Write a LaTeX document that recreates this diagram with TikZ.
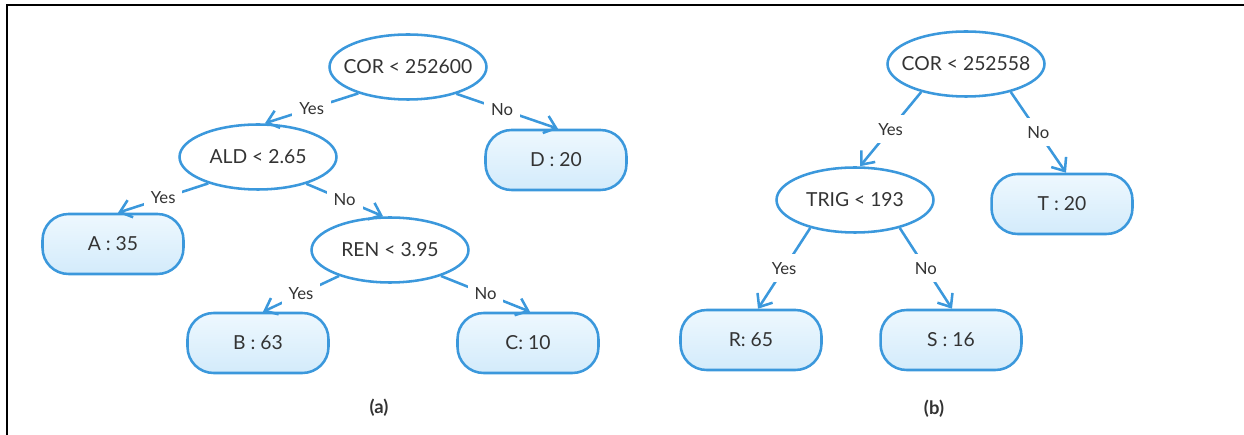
\documentclass[tikz,border=0pt]{standalone}
\usepackage{fontspec}
\setmainfont{Lato}
\usetikzlibrary{arrows.meta,shapes.geometric}
\definecolor{nodeblue}{HTML}{3B98DC}
\definecolor{inkgray}{HTML}{333333}
\definecolor{boxtop}{HTML}{EEF8FE}
\definecolor{boxbottom}{HTML}{D3EBFB}
% zero-width text so the ellipse size comes from its minimum size alone
\newcommand\tightlabel[1]{\makebox[0pt]{#1}}

\begin{document}
\begin{tikzpicture}[x=0.02cm,y=-0.02cm,
  test/.style={ellipse, draw=nodeblue, line width=1.45pt, fill=white,
    minimum width=3.14cm, minimum height=1.3cm, inner sep=0pt,
    text=inkgray, font=\fontsize{11}{13}\selectfont},
  leaf/.style={rectangle, rounded corners=0.52cm, draw=nodeblue, line width=1.45pt,
    top color=boxtop, bottom color=boxbottom,
    minimum width=2.82cm, minimum height=1.2cm, inner sep=0pt,
    text=inkgray, font=\fontsize{11}{13}\selectfont},
  branch/.style={draw=nodeblue, line width=1.45pt,
    -{Straight Barb[length=0.22cm,width=0.36cm]}},
  answer/.style={fill=white, text=inkgray, font=\fontsize{9.5}{11}\selectfont,
    inner xsep=0.14cm, inner ysep=0.16cm},
  caption/.style={text=inkgray, font=\bfseries\fontsize{10.5}{12}\selectfont}]

\useasboundingbox (0,0) rectangle (1244,435);

% frame on the top and left
\draw[line width=0.045cm] (7,435) -- (7,5) -- (1244,5);

% tree (a)
\node[test] (corA) at (408,67) {\tightlabel{COR < 252600}};
\node[test] (ald)  at (258,157) {\tightlabel{ALD < 2.65}};
\node[test] (ren)  at (390,250) {\tightlabel{REN < 3.95}};
\node[leaf] (dleaf) at (556,160) {D : 20};
\node[leaf] (aleaf) at (113,244) {A : 35};
\node[leaf] (bleaf) at (258,343) {B : 63};
\node[leaf] (cleaf) at (528,343) {C: 10};

\draw[branch] (corA.208) -- node[answer]{Yes} ([xshift=0.14cm]ald.north);
\draw[branch] (corA.331) -- node[answer,pos=0.45]{No} ([xshift=0.04cm]dleaf.north);
\draw[branch] (ald.208) -- node[answer]{Yes} ([xshift=0.1cm]aleaf.north);
\draw[branch] (ald.331) -- node[answer]{No} ([xshift=-0.14cm]ren.north);
\draw[branch] (ren.207) -- node[answer]{Yes} ([xshift=0.1cm]bleaf.north);
\draw[branch] (ren.333) -- node[answer]{No} ([xshift=0.04cm]cleaf.north);

\node[caption] (capA) at (379,408) {(a)};

% tree (b)
\node[test] (corB) at (966,64) {\tightlabel{COR < 252558}};
\node[test] (trig) at (855,200) {\tightlabel{TRIG < 193}};
\node[leaf] (tleaf) at (1062,204) {T : 20};
\node[leaf] (rleaf) at (751,340) {R: 65};
\node[leaf] (sleaf) at (951,340) {S : 16};

\draw[branch] (corB.212) -- node[answer]{Yes} ([xshift=0.1cm]trig.north);
\draw[branch] (corB.328) -- node[answer]{No} ([xshift=0.08cm]tleaf.north);
\draw[branch] (trig.212) -- node[answer]{Yes} ([xshift=0.14cm]rleaf.north);
\draw[branch] (trig.328) -- node[answer]{No} ([xshift=0.02cm]sleaf.north);

\node[caption] (capB) at (934,409) {(b)};
\end{tikzpicture}
\end{document}
